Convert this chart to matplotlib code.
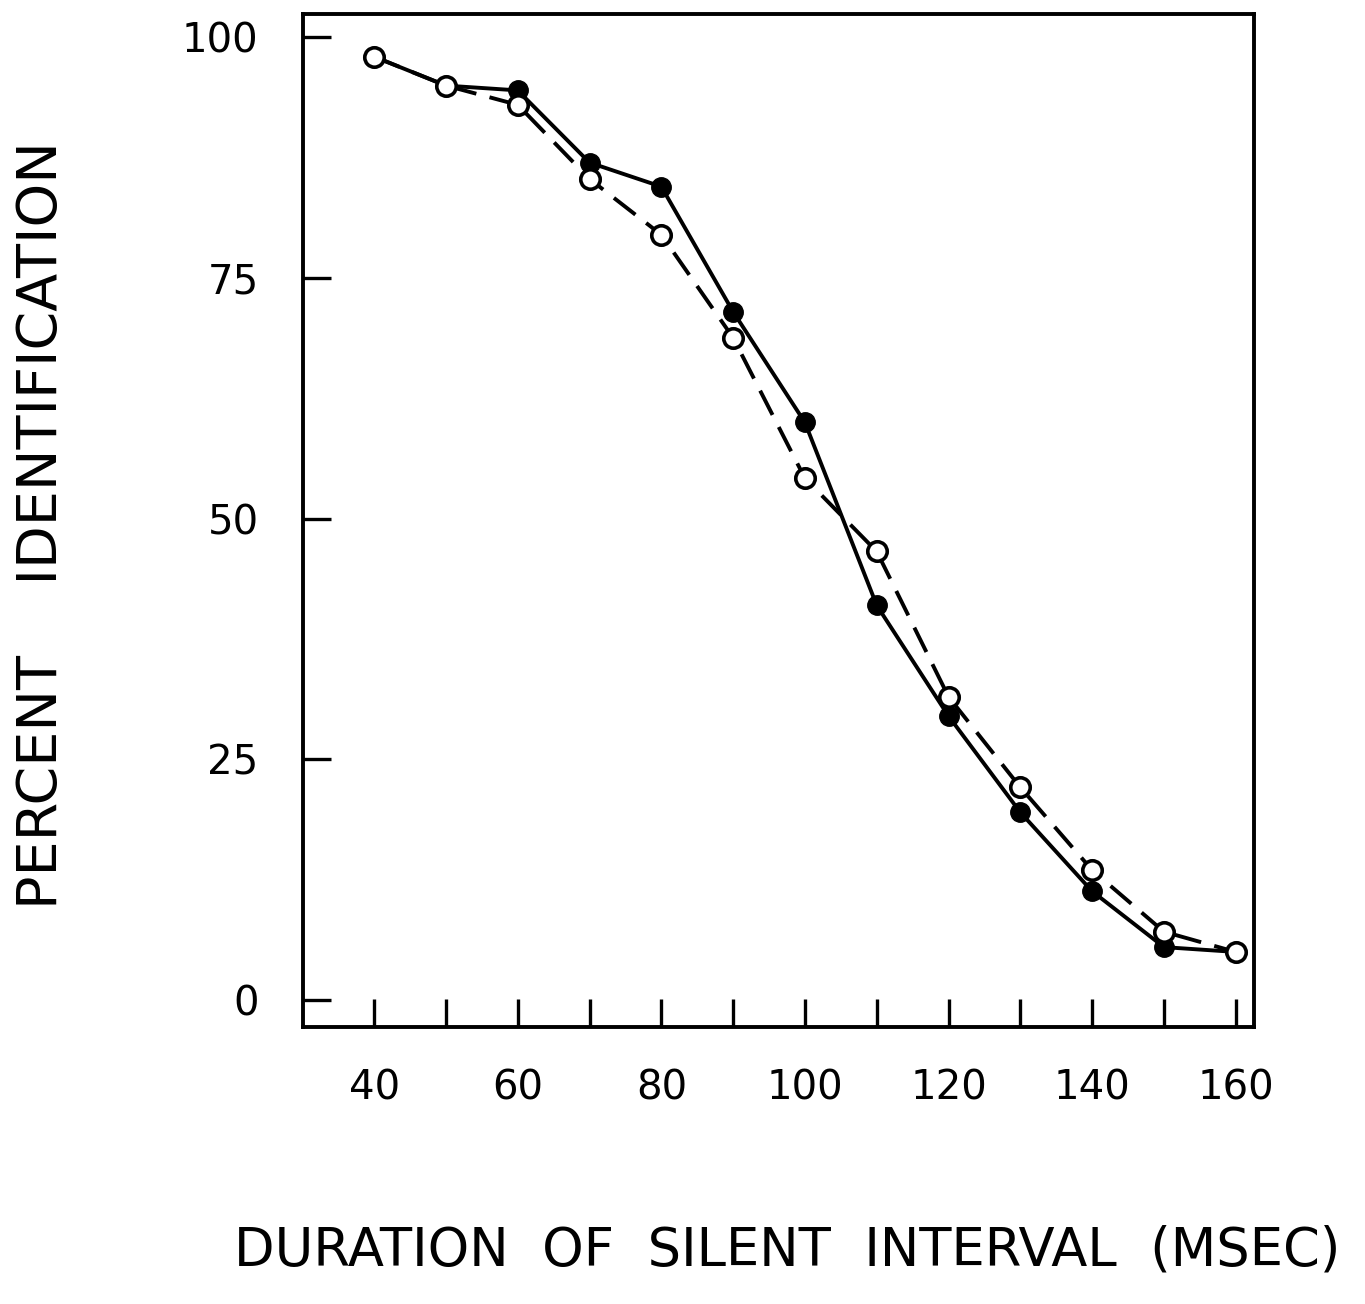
import matplotlib
matplotlib.use("Agg")
import matplotlib.pyplot as plt

# silent interval (msec)
duration = [40, 50, 60, 70, 80, 90, 100, 110, 120, 130, 140, 150, 160]
# filled circles, solid line
filled_pct = [98, 95, 94.5, 87, 84.5, 71.5, 60, 41, 29.5, 19.5, 11.3, 5.5, 5]
# open circles, dashed line
open_pct = [98, 95, 93, 85.3, 79.5, 68.8, 54.2, 46.6, 31.5, 22.1, 13.5, 7.1, 5]

xticks = [40, 60, 80, 100, 120, 140, 160]
yticks = [0, 25, 50, 75, 100]

plt.rcParams['font.family'] = ['DejaVu Sans']

fig = plt.figure(figsize=(13.65, 13.04), dpi=100)
ax = fig.add_axes([0.222, 0.2124, 0.697, 0.7766])

ax.plot(duration, filled_pct, '-', color='black', lw=2.8,
        marker='o', ms=14, mfc='black', mec='black', zorder=3)
ax.plot(duration, open_pct, color='black', lw=2.8, dashes=(7, 3.5),
        marker='o', ms=14, mfc='white', mec='black', mew=2.6, zorder=4)

ax.set_xlim(30.1, 162.6)
ax.set_ylim(-2.8, 102.4)

ax.set_xticks(range(40, 161, 10))
ax.set_xticklabels([str(v) if v in xticks else '' for v in range(40, 161, 10)])
ax.set_yticks(yticks)
ax.set_yticklabels([str(v) for v in yticks])

ax.tick_params(axis='x', direction='in', length=20, width=2.4, pad=30, labelsize=29)
ax.tick_params(axis='y', direction='in', length=20, width=2.4, pad=32, labelsize=29)

for s in ax.spines.values():
    s.set_linewidth(2.8)

fig.text(0.031, 0.597, 'PERCENT    IDENTIFICATION', rotation=90,
         ha='center', va='center', fontsize=40)
fig.text(0.577, 0.041, 'DURATION  OF  SILENT  INTERVAL  (MSEC)',
         ha='center', va='center', fontsize=38)

fig.savefig('out.png', dpi=100)
